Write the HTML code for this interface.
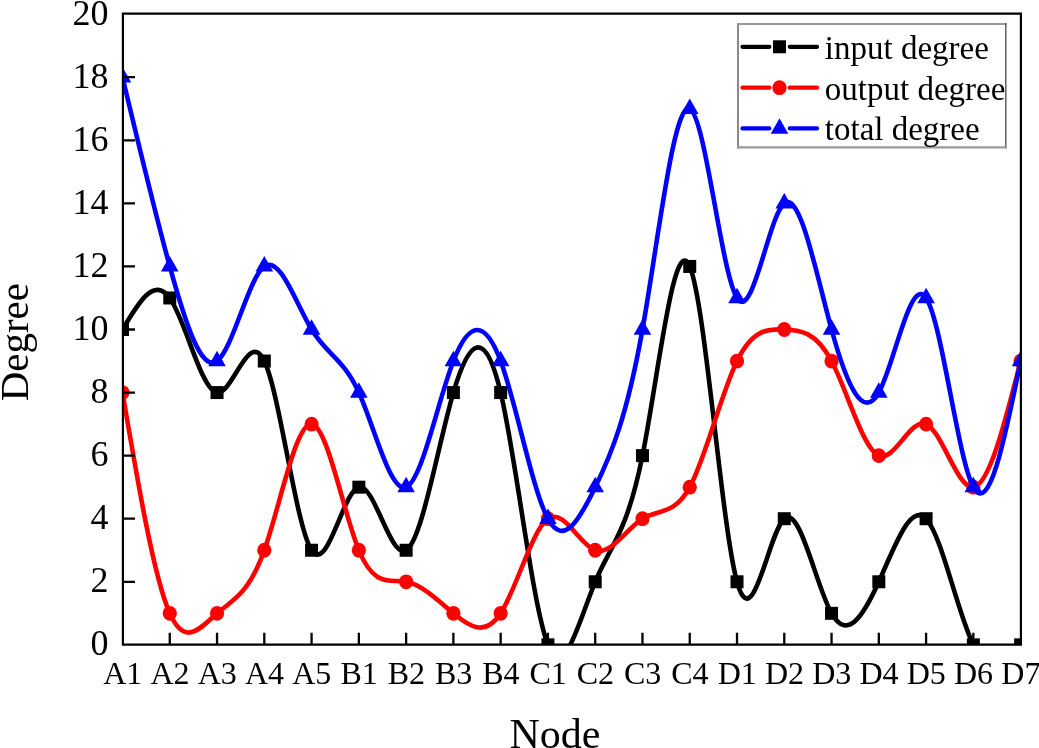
<!DOCTYPE html>
<html lang="en"><head><meta charset="utf-8"><title>Node degree chart</title>
<style>html,body{margin:0;padding:0;background:#fff;}body{width:1039px;height:748px;overflow:hidden;}svg{display:block;}text{font-family:"Liberation Serif","Times New Roman",serif;fill:#000;}</style></head><body>
<svg width="1039" height="748" viewBox="0 0 1039 748">
<rect width="1039" height="748" fill="#fff"/>
<defs><clipPath id="ax"><rect x="122.9" y="13.6" width="898" height="630.95"/></clipPath></defs>
<g clip-path="url(#ax)">
<path d="M122.5 329.5C138.26 302.77 154.01 276.03 169.77 297.97C185.53 319.9 201.28 390.49 217.04 392.57C232.8 394.65 248.55 328.2 264.31 361.04C280.07 393.87 295.82 525.98 311.58 550.25C327.34 574.51 343.09 490.92 358.85 487.18C374.61 483.43 390.36 559.53 406.12 550.25C421.88 540.96 437.63 446.29 453.39 392.57C469.15 338.85 484.9 326.1 500.66 392.57C516.42 459.04 532.17 604.75 547.93 644.85C563.69 684.95 579.44 619.45 595.2 581.78C610.96 544.11 626.71 534.29 642.47 455.64C658.23 376.99 673.98 229.53 689.74 266.43C705.5 303.33 721.25 524.59 737.01 581.78C752.77 638.97 768.52 532.07 784.28 518.71C800.04 505.35 815.79 585.52 831.55 613.32C847.31 641.11 863.06 616.54 878.82 581.78C894.58 547.02 910.33 502.07 926.09 518.71C941.85 535.35 957.6 613.56 973.36 644.85C989.12 676.14 1004.87 660.49 1020.63 644.85" fill="none" stroke="#000" stroke-width="4.6" stroke-linejoin="round"/>
<rect x="116" y="323" width="13" height="13" fill="#000"/>
<rect x="163.27" y="291.47" width="13" height="13" fill="#000"/>
<rect x="210.54" y="386.07" width="13" height="13" fill="#000"/>
<rect x="257.81" y="354.54" width="13" height="13" fill="#000"/>
<rect x="305.08" y="543.75" width="13" height="13" fill="#000"/>
<rect x="352.35" y="480.68" width="13" height="13" fill="#000"/>
<rect x="399.62" y="543.75" width="13" height="13" fill="#000"/>
<rect x="446.89" y="386.07" width="13" height="13" fill="#000"/>
<rect x="494.16" y="386.07" width="13" height="13" fill="#000"/>
<rect x="541.43" y="638.35" width="13" height="13" fill="#000"/>
<rect x="588.7" y="575.28" width="13" height="13" fill="#000"/>
<rect x="635.97" y="449.14" width="13" height="13" fill="#000"/>
<rect x="683.24" y="259.93" width="13" height="13" fill="#000"/>
<rect x="730.51" y="575.28" width="13" height="13" fill="#000"/>
<rect x="777.78" y="512.21" width="13" height="13" fill="#000"/>
<rect x="825.05" y="606.82" width="13" height="13" fill="#000"/>
<rect x="872.32" y="575.28" width="13" height="13" fill="#000"/>
<rect x="919.59" y="512.21" width="13" height="13" fill="#000"/>
<rect x="966.86" y="638.35" width="13" height="13" fill="#000"/>
<rect x="1014.13" y="638.35" width="13" height="13" fill="#000"/>
<path d="M122.5 392.57C138.26 485.24 154.01 577.91 169.77 613.32C185.53 648.72 201.28 626.86 217.04 613.32C232.8 599.77 248.55 594.53 264.31 550.25C280.07 505.96 295.82 422.61 311.58 424.11C327.34 425.6 343.09 511.92 358.85 550.25C374.61 588.57 390.36 578.9 406.12 581.78C421.88 584.66 437.63 600.1 453.39 613.32C469.15 626.53 484.9 637.51 500.66 613.32C516.42 589.12 532.17 529.73 547.93 518.71C563.69 507.69 579.44 545.03 595.2 550.25C610.96 555.46 626.71 528.57 642.47 518.71C658.23 508.85 673.98 516.04 689.74 487.18C705.5 458.31 721.25 393.41 737.01 361.04C752.77 328.66 768.52 328.83 784.28 329.5C800.04 330.17 815.79 331.33 831.55 361.04C847.31 390.74 863.06 448.97 878.82 455.64C894.58 462.31 910.33 417.41 926.09 424.11C941.85 430.8 957.6 489.09 973.36 487.18C989.12 485.26 1004.87 423.15 1020.63 361.04" fill="none" stroke="#f00" stroke-width="4.6" stroke-linejoin="round"/>
<ellipse cx="122.5" cy="392.57" rx="7.1" ry="7.4" fill="#f00"/>
<ellipse cx="169.77" cy="613.32" rx="7.1" ry="7.4" fill="#f00"/>
<ellipse cx="217.04" cy="613.32" rx="7.1" ry="7.4" fill="#f00"/>
<ellipse cx="264.31" cy="550.25" rx="7.1" ry="7.4" fill="#f00"/>
<ellipse cx="311.58" cy="424.11" rx="7.1" ry="7.4" fill="#f00"/>
<ellipse cx="358.85" cy="550.25" rx="7.1" ry="7.4" fill="#f00"/>
<ellipse cx="406.12" cy="581.78" rx="7.1" ry="7.4" fill="#f00"/>
<ellipse cx="453.39" cy="613.32" rx="7.1" ry="7.4" fill="#f00"/>
<ellipse cx="500.66" cy="613.32" rx="7.1" ry="7.4" fill="#f00"/>
<ellipse cx="547.93" cy="518.71" rx="7.1" ry="7.4" fill="#f00"/>
<ellipse cx="595.2" cy="550.25" rx="7.1" ry="7.4" fill="#f00"/>
<ellipse cx="642.47" cy="518.71" rx="7.1" ry="7.4" fill="#f00"/>
<ellipse cx="689.74" cy="487.18" rx="7.1" ry="7.4" fill="#f00"/>
<ellipse cx="737.01" cy="361.04" rx="7.1" ry="7.4" fill="#f00"/>
<ellipse cx="784.28" cy="329.5" rx="7.1" ry="7.4" fill="#f00"/>
<ellipse cx="831.55" cy="361.04" rx="7.1" ry="7.4" fill="#f00"/>
<ellipse cx="878.82" cy="455.64" rx="7.1" ry="7.4" fill="#f00"/>
<ellipse cx="926.09" cy="424.11" rx="7.1" ry="7.4" fill="#f00"/>
<ellipse cx="973.36" cy="487.18" rx="7.1" ry="7.4" fill="#f00"/>
<ellipse cx="1020.63" cy="361.04" rx="7.1" ry="7.4" fill="#f00"/>
<path d="M122.5 77.22C138.26 143.16 154.01 209.09 169.77 266.43C185.53 323.77 201.28 372.51 217.04 361.04C232.8 349.56 248.55 277.88 264.31 266.43C280.07 254.98 295.82 303.75 311.58 329.5C327.34 355.25 343.09 357.99 358.85 392.57C374.61 427.15 390.36 493.58 406.12 487.18C421.88 480.77 437.63 401.54 453.39 361.04C469.15 320.53 484.9 318.76 500.66 361.04C516.42 403.31 532.17 489.63 547.93 518.71C563.69 547.79 579.44 519.62 595.2 487.18C610.96 454.73 626.71 418 642.47 329.5C658.23 241 673.98 100.72 689.74 108.75C705.5 116.79 721.25 273.15 737.01 297.97C752.77 322.78 768.52 216.05 784.28 203.36C800.04 190.67 815.79 272 831.55 329.5C847.31 387 863.06 420.66 878.82 392.57C894.58 364.48 910.33 274.63 926.09 297.97C941.85 321.3 957.6 457.8 973.36 487.18C989.12 516.55 1004.87 438.79 1020.63 361.04" fill="none" stroke="#00f" stroke-width="4.6" stroke-linejoin="round"/>
<polygon points="122.5,66.89 113.7,82.39 131.3,82.39" fill="#00f"/>
<polygon points="169.77,256.1 160.97,271.6 178.57,271.6" fill="#00f"/>
<polygon points="217.04,350.7 208.24,366.2 225.84,366.2" fill="#00f"/>
<polygon points="264.31,256.1 255.51,271.6 273.11,271.6" fill="#00f"/>
<polygon points="311.58,319.17 302.78,334.67 320.38,334.67" fill="#00f"/>
<polygon points="358.85,382.24 350.05,397.74 367.65,397.74" fill="#00f"/>
<polygon points="406.12,476.84 397.32,492.34 414.92,492.34" fill="#00f"/>
<polygon points="453.39,350.7 444.59,366.2 462.19,366.2" fill="#00f"/>
<polygon points="500.66,350.7 491.86,366.2 509.46,366.2" fill="#00f"/>
<polygon points="547.93,508.38 539.13,523.88 556.73,523.88" fill="#00f"/>
<polygon points="595.2,476.84 586.4,492.34 604,492.34" fill="#00f"/>
<polygon points="642.47,319.17 633.67,334.67 651.27,334.67" fill="#00f"/>
<polygon points="689.74,98.42 680.94,113.92 698.54,113.92" fill="#00f"/>
<polygon points="737.01,287.63 728.21,303.13 745.81,303.13" fill="#00f"/>
<polygon points="784.28,193.03 775.48,208.53 793.08,208.53" fill="#00f"/>
<polygon points="831.55,319.17 822.75,334.67 840.35,334.67" fill="#00f"/>
<polygon points="878.82,382.24 870.02,397.74 887.62,397.74" fill="#00f"/>
<polygon points="926.09,287.63 917.29,303.13 934.89,303.13" fill="#00f"/>
<polygon points="973.36,476.84 964.56,492.34 982.16,492.34" fill="#00f"/>
<polygon points="1020.63,350.7 1011.83,366.2 1029.43,366.2" fill="#00f"/>
</g>
<g stroke="#000" stroke-width="2.2" fill="none">
<path d="M122.9 13.6H1020.9V644.55H122.9Z"/>
<path d="M169.77 644.55V632.7M217.04 644.55V632.7M264.31 644.55V632.7M311.58 644.55V632.7M358.85 644.55V632.7M406.12 644.55V632.7M453.39 644.55V632.7M500.66 644.55V632.7M547.93 644.55V632.7M595.2 644.55V632.7M642.47 644.55V632.7M689.74 644.55V632.7M737.01 644.55V632.7M784.28 644.55V632.7M831.55 644.55V632.7M878.82 644.55V632.7M926.09 644.55V632.7M973.36 644.55V632.7M122.9 581.78H135M122.9 518.71H135M122.9 455.64H135M122.9 392.57H135M122.9 329.5H135M122.9 266.43H135M122.9 203.36H135M122.9 140.29H135M122.9 77.22H135" stroke-width="2.3"/>
</g>
<g font-size="36">
<text x="108.6" y="655.45" text-anchor="end">0</text>
<text x="108.6" y="592.38" text-anchor="end">2</text>
<text x="108.6" y="529.31" text-anchor="end">4</text>
<text x="108.6" y="466.24" text-anchor="end">6</text>
<text x="108.6" y="403.17" text-anchor="end">8</text>
<text x="108.6" y="340.1" text-anchor="end">10</text>
<text x="108.6" y="277.03" text-anchor="end">12</text>
<text x="108.6" y="213.96" text-anchor="end">14</text>
<text x="108.6" y="150.89" text-anchor="end">16</text>
<text x="108.6" y="87.82" text-anchor="end">18</text>
<text x="108.6" y="24.75" text-anchor="end">20</text>
</g><g font-size="32">
<text x="122.7" y="683.5" text-anchor="middle">A1</text>
<text x="169.97" y="683.5" text-anchor="middle">A2</text>
<text x="217.24" y="683.5" text-anchor="middle">A3</text>
<text x="264.51" y="683.5" text-anchor="middle">A4</text>
<text x="311.78" y="683.5" text-anchor="middle">A5</text>
<text x="359.05" y="683.5" text-anchor="middle">B1</text>
<text x="406.32" y="683.5" text-anchor="middle">B2</text>
<text x="453.59" y="683.5" text-anchor="middle">B3</text>
<text x="500.86" y="683.5" text-anchor="middle">B4</text>
<text x="548.13" y="683.5" text-anchor="middle">C1</text>
<text x="595.4" y="683.5" text-anchor="middle">C2</text>
<text x="642.67" y="683.5" text-anchor="middle">C3</text>
<text x="689.94" y="683.5" text-anchor="middle">C4</text>
<text x="737.21" y="683.5" text-anchor="middle">D1</text>
<text x="784.48" y="683.5" text-anchor="middle">D2</text>
<text x="831.75" y="683.5" text-anchor="middle">D3</text>
<text x="879.02" y="683.5" text-anchor="middle">D4</text>
<text x="926.29" y="683.5" text-anchor="middle">D5</text>
<text x="973.56" y="683.5" text-anchor="middle">D6</text>
<text x="1020.83" y="683.5" text-anchor="middle">D7</text>
</g>
<text x="555" y="747.5" font-size="42" text-anchor="middle">Node</text>
<text transform="translate(27.7 342.2) rotate(-90)" font-size="41" text-anchor="middle">Degree</text>
<rect x="738" y="24" width="267.8" height="123.3" fill="#fff"/>
<path d="M738 23V148.4" stroke="#8a8a8a" stroke-width="2"/><path d="M737 24.05H1006.4" stroke="#989898" stroke-width="2"/><path d="M1005.8 23V148.4" stroke="#555" stroke-width="1.4"/><path d="M737 147.3H1006.4" stroke="#9a9a9a" stroke-width="2.3"/>
<path d="M742.5 46.8H769.3M789.8 46.8H817" stroke="#000" stroke-width="4.3" stroke-linecap="round"/>
<rect x="773" y="40.3" width="13" height="13" fill="#000"/>
<text x="824.8" y="58.6" font-size="33">input degree</text>
<path d="M742.5 87.7H769.3M789.8 87.7H817" stroke="#f00" stroke-width="4.3" stroke-linecap="round"/>
<ellipse cx="779.5" cy="87.7" rx="7.1" ry="7.4" fill="#f00"/>
<text x="824.8" y="99.5" font-size="33">output degree</text>
<path d="M742.5 128.4H769.3M789.8 128.4H817" stroke="#00f" stroke-width="4.3" stroke-linecap="round"/>
<polygon points="779.5,118.37 770.7,133.87 788.3,133.87" fill="#00f"/>
<text x="824.8" y="140.2" font-size="33">total degree</text>
</svg></body></html>
